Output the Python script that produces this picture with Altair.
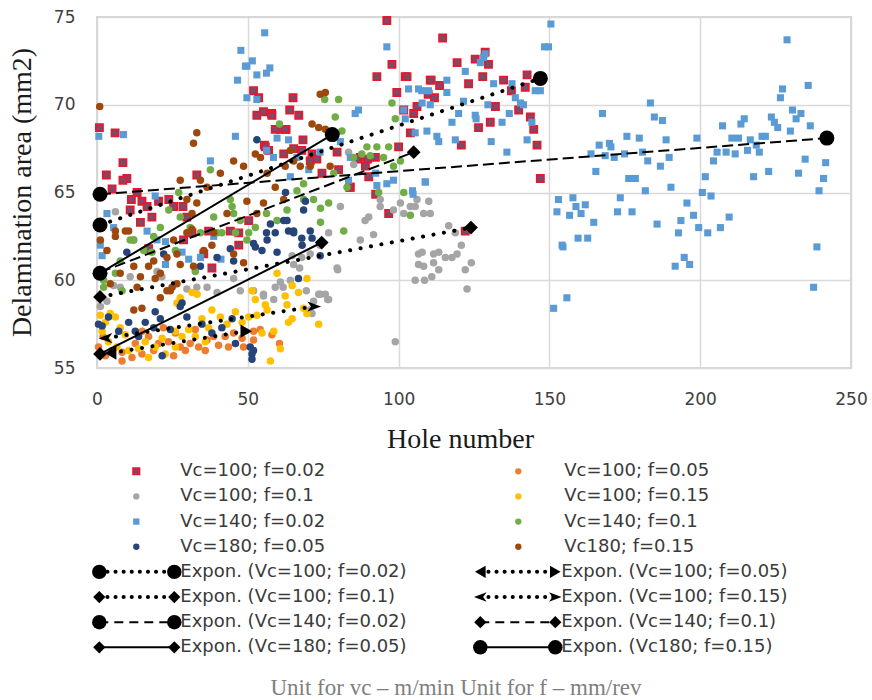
import altair as alt
import pandas as pd

# ---------------- data ----------------
series_labels = ["Vc=100; f=0.02", "Vc=100; f=0.05", "Vc=100; f=0.1", "Vc=100; f=0.15",
                 "Vc=140; f=0.02", "Vc=140; f=0.1", "Vc=180; f=0.05", "Vc180; f=0.15"]

s1_pts = [[0.8,68.7],[6,68.4],[8.6,66.7],[9.9,65.8],[8.6,65.7],[3.1,66],[5,65.2],[11.4,64.6],[13.3,65],[14.9,64.5],
          [11,64],[14.4,63.3],[16.6,64.2],[20.4,64.5],[23.8,64.6],[18.2,63.6],[25.4,64.2],[28.5,64.2],[29.8,63.6],[33.1,66],
          [31.5,62.7],[37,62.8],[17.1,61.8],[28.7,62.3],[35.4,61.5],[38.1,60.7],[44.2,62.8],[47,62.7],[47,62],[50.3,63.4],
          [51.9,70.8],[53.6,70.4],[53,69.4],[55.2,69.6],[57.9,69.5],[60.8,68.6],[62.7,68.6],[65,70.4],[63.9,69.7],[66.9,69.4],
          [55.5,67.7],[56.9,67.4],[65.2,67.5],[67.9,67.4],[71.3,67.2],[70.7,66.8],[74.6,66.1],[79.6,67.3],[80.1,66.3],[87.3,67],
          [89,66.5],[90.1,65.9],[92.4,64.9],[84,65.3],[92.8,71.6],[96.1,74.8],[97.8,72.3],[99.4,70.7],[102.2,71.6],[101.7,69.7],
          [103.9,68.4],[100,67.6],[96.7,63.8],[92.3,67],[105,69.5],[110.5,71.4],[114.6,73.8],[102.8,71.6],[110.8,71.4],[113.6,71.1],
          [109.8,70.6],[111.9,70.4],[106.1,69.9],[119.4,72.4],[125.4,72.6],[128.7,73],[129.8,72.3],[123.2,71.2],[127.9,71.6],[134.8,71.4],
          [137.4,70.8],[142,71],[142.6,71.7],[132.1,69.9],[130.4,69],[126.5,68.7],[120.8,67.7],[139.8,69.7],[143.7,69.3],[144.8,68.6],
          [145.9,67.7],[147,65.8],[122.1,62.8],[58,69.4],[59.1,68.6],[62.4,68.6],[68.3,68],[55.8,67.6],[61.9,67.2],[72.9,66.9],
          [86.4,66.9],[83.8,65.3],[89.7,66.9]]

s2_pts = [[0.5,56.2],[5,56],[8.3,55.9],[11.6,55.6],[14.9,55.8],[18.8,56],[20.4,56.4],[23.7,56.5],[27.6,56.2],[30.9,56.4],
          [33.7,56.2],[36.5,56.6],[38.7,56.8],[42.5,56.8],[45.3,57],[48.1,56.7],[48.6,56.2],[51.9,57.1],[43.6,56.2],[40.3,56.3],
          [35.9,56],[29.3,56],[25.4,55.7],[8.3,55.4],[2.8,55.7],[32.6,57.2],[26,57],[12.7,56.4],[17.1,56.8],[51.9,56.6],
          [54.1,57.2],[58,56.9],[60.5,56.4],[2,56.8],[15,57.1],[22,57.3]]

s3_pts = [[6.1,63.9],[1.1,58.5],[3.3,58.8],[5.5,59.7],[7.7,59.6],[11,60.2],[19.9,60.5],[21.5,60.2],[29.8,59.5],[33.1,59.6],
          [36.5,59.6],[39.8,59.3],[45.3,60.1],[47.5,59.4],[51.9,59.4],[55.2,59.2],[59.1,59.6],[61.7,59.6],[64.1,60],[65.2,60.9],
          [67.9,61.3],[70.7,61.5],[74,62],[76.8,62.7],[73.5,59.2],[75.7,59.2],[76.8,58.9],[71.8,58.8],[71.3,58.1],[79.6,60.7],
          [80.7,64.2],[83.4,67.3],[85.1,66.6],[87.3,62.3],[88.9,63.4],[90.1,63.6],[91.7,62.6],[93.9,64.2],[98.9,56.5],[93.9,64.6],
          [98.3,64],[100.6,64.4],[101.7,63.8],[103.9,64.2],[106.1,64.6],[108.3,63.8],[111.6,61.5],[111,60.2],[108.3,60.8],[106.6,61.5],
          [105.5,60],[110,64.5],[105.5,64.2],[110.5,63.8],[116.6,63.1],[118.8,62.7],[120.8,62],[124.1,61],[122.1,60.6],[122.7,59.5],
          [113.3,61.6],[115.5,61.3],[117.7,61.3],[119.4,61.5],[107.8,61.6],[106.6,60.9],[111.6,61],[113.3,60.6],[108.6,60],[64.7,61.4],
          [67.2,60.7],[79.8,60.6],[69.4,59.4],[74,59.2],[76.5,58.9],[70.7,58.3],[60.8,59.9],[55.2,59.1],[58.6,58.9]]

s4_pts = [[1.1,58],[2.8,57.6],[4.4,58.1],[6.1,57.9],[7.7,57.3],[9.4,56.9],[1.7,57.1],[3.8,56.5],[6.6,56.2],[10.5,56],
          [13.8,56.1],[16,56.5],[19.3,56.2],[21.6,56.7],[26,57.1],[28.2,56.8],[30.4,57.2],[31.5,59.3],[33.2,59.2],[34.8,57.8],
          [37,57.3],[38.1,58.3],[27.6,59],[26.5,58.7],[40.9,57.9],[43.1,57.5],[45.9,58.2],[48.1,57.6],[50.3,57.9],[17.1,55.6],
          [22.6,55.8],[26,56.2],[32.6,56.8],[35.9,56.5],[51.4,59.4],[52.5,58.9],[59.7,60.4],[55.8,58.6],[56.4,58.3],[62.4,59.1],
          [64.7,59.7],[66.8,59.3],[69.6,60.1],[63,58.6],[68.5,58.4],[64.7,57.8],[69.6,58.1],[73.5,57.5],[63.5,57.6],[58.6,57.1],
          [54.7,57],[60.8,56.1],[57.5,55.4],[53,58]]

s5_pts = [[0.6,68.2],[8.8,68.3],[3.3,63.8],[5.5,63],[1.1,62],[1.7,61.4],[16.6,62.8],[19.3,64.8],[19.9,62.3],[22.7,62.2],
          [28.2,61.6],[22.7,60.9],[30.4,61.2],[37.6,66.8],[34.3,61.3],[38.7,62.5],[41.1,61.2],[45.9,68.2],[46.6,71.4],[47.7,73.1],
          [49.2,72.2],[49.7,72.2],[51.5,72.5],[53,71.7],[49.7,70.4],[55.6,74.1],[56.2,71.8],[57.3,72.1],[53,70.3],[56.2,67.4],
          [59.7,68.1],[58.5,67],[63.5,68],[64.1,65.9],[66.3,67],[70.2,66.3],[74,67.3],[80.7,67.9],[84,67],[85.6,69.5],
          [86.7,69.7],[83.4,65.7],[92.4,66.1],[92.8,65.4],[96.1,73.3],[98.3,65.7],[101.7,69.7],[103.3,70.9],[107.7,70.8],[109.9,70.8],
          [109.4,68.5],[112.7,68.2],[108.8,65.6],[104.8,64.9],[96.1,65.5],[106.6,70.9],[107.8,70.1],[110.5,70],[102.2,69.2],[105.5,68.4],
          [113.3,67.9],[118.8,68],[117.7,69],[119.9,69.5],[121.5,70.2],[122.1,71.9],[116,71.4],[116,70.7],[125.4,69.4],[125.7,69.2],
          [127.1,72.4],[128.2,72.7],[128.7,72.9],[129.6,70],[130.7,67.9],[131.5,71.2],[134.3,69],[135.9,67.3],[136.7,69.5],[137.6,71.2],
          [138.7,70.4],[140.4,70.1],[141.4,70],[142.6,68],[144.2,69],[145.3,70.8],[147,70.8],[148.4,73.3],[149.7,73.3],[150.5,74.6],
          [108.9,65.6],[104.6,65.1],[153,64.6],[152.5,63.9],[154.2,62],[151.4,58.4],[156.7,63.7],[157.8,64.7],[158.8,64.2],[161.9,64.3],
          [160.5,63.8],[164.7,63.3],[154.5,61.9],[159.5,62.4],[162.7,62.4],[155.8,59],[163.8,67.2],[165.4,66.2],[166.5,67.7],[167.6,69.5],
          [168.5,67.1],[169.9,67.8],[170.4,67.6],[171.5,67],[173.5,64.7],[172.6,63.9],[174.9,67.2],[175.7,68.2],[176.3,65.8],[177.4,63.9],
          [178.5,65.8],[179.8,68.1],[180.9,67.3],[181.8,65.1],[182.6,66.8],[183.5,70.1],[184.8,69.3],[185.7,63.2],[186.8,66.5],[187.5,69.1],
          [188.7,68],[189.7,67],[190.3,65.3],[191.7,60.8],[192.8,62.7],[193.6,63.4],[194.7,61.3],[195.6,64.4],[196.5,60.9],[197.8,63.7],
          [198.9,68.1],[199.5,63],[200.7,65],[201.7,65.9],[202.5,62.7],[203.6,64.8],[204.4,66.8],[205.6,67.3],[206.7,63],[207.4,68.8],
          [208.6,67.3],[209.6,63.6],[210.5,68.1],[211.6,67.2],[212.7,68.1],[213.5,68.9],[214.6,69.2],[215.7,67.4],[216.6,68],[217.7,65.9],
          [218.6,67.7],[219.6,67.3],[220.5,68.2],[221.6,68.2],[222.7,66.2],[223.6,69.3],[224.6,69],[225.7,68.7],[226.6,70.4],[227.3,70.9],
          [228.8,73.7],[229.9,68.5],[230.6,69.7],[231.8,69.2],[232.6,66.1],[233.4,69.5],[234.8,66.9],[235.8,71.1],[236.5,68.8],[237.6,59.6],
          [238.7,61.9],[239.4,65.1],[240.9,65.8],[241.6,66.7]]

s6_pts = [[2.2,60],[6.1,60.4],[7.7,61.1],[11,62.3],[12.2,62.3],[15.5,61.7],[18.8,62.5],[21,63],[23.8,64],[27.6,63.6],
          [30.9,63],[34.3,62.7],[37.6,66.3],[38.7,63.6],[39.8,62.7],[44.2,64.6],[45.3,63.8],[47.5,63.4],[50.3,62.7],[52.5,63],
          [56.2,63.8],[59.7,63.4],[63,64],[66.3,65.1],[68.5,65.5],[71.8,64.6],[74.1,63.3],[76.8,64.4],[78.5,66.1],[80.1,70.3],
          [79,69.3],[81.2,68.5],[82.9,65.3],[85.1,67],[87.8,67.2],[89.5,67.6],[90.6,67.1],[92.8,67.6],[95,67],[96.7,67.6],
          [98.3,66.5],[100.6,66.8],[97.8,70.1],[98.9,69.2],[101.7,65],[103.9,63.7],[81.8,62.8],[74.1,64.1],[68.5,64.6],[93.4,65],
          [2.2,59.6],[8.3,59.4],[18.2,61.6],[26,61.7],[32.6,60.5],[44.8,64.2],[41.4,62.7],[45.9,62.7],[49.7,62.3],[12.1,62.3],
          [27.1,65],[75.5,70.3],[60.5,68.9]]

s7_pts = [[1.7,57.4],[3.8,57.9],[7.2,57.1],[10.5,57.6],[12.7,57.1],[13.8,56.8],[16,57.6],[18.8,57.3],[21,57.8],[24.3,57.2],
          [19.3,58.2],[27.6,58.5],[28.2,58.7],[29.8,57.9],[34.8,57.5],[38.1,57],[41.4,57.3],[44.8,57.8],[21.6,55.7],[50.8,56.2],
          [51.4,55.8],[45.9,56.4],[0.5,57.5],[52.5,61.9],[54.7,61.7],[56.4,62.3],[57.5,63.2],[59.1,62.7],[61.9,63.4],[63.5,62.8],
          [65.2,62.7],[68.5,64],[68,62],[70.7,62.8],[71.3,62.4],[69.1,64.5],[74,61.4],[51.4,55.5],[51.9,56],[66.8,60.1],
          [53,68],[62.5,65],[63,63.4],[65.2,62.8],[67.9,62.4],[56.2,62.7],[51.9,62.1],[59.7,61.6],[44.2,61.8],[45.3,61.1],
          [39.8,61.3],[34.3,60.8],[22.1,61.5],[9.9,61.6]]

s8_pts = [[0.9,69.9],[1.1,62.3],[3.3,61.7],[6.1,62.8],[9.4,62.8],[4.4,59.8],[7.7,60.4],[12.2,60.8],[14.4,60.2],[17.1,60.8],
          [21,60.4],[24.3,59.4],[26.5,59.8],[27.6,60.9],[23.2,61.3],[25.4,62.3],[29.8,62.7],[31.5,63.8],[33.1,64.4],[29.8,64.6],
          [33.1,68.4],[32,67.8],[27.6,65.7],[34.3,65.7],[36.5,65.3],[40.9,66.1],[45.3,66.8],[48.6,66.5],[49.7,64.5],[43.1,63.8],
          [38.7,62.7],[35.4,61.7],[32,60.8],[45.3,61.5],[52.5,67.2],[54.2,67],[56.4,66.1],[55.2,64.4],[59.1,65.3],[62.4,66.5],
          [64.1,67.4],[65.2,66.8],[67.4,66.5],[71.3,68.9],[73.5,68.7],[75.7,68.6],[74,70.6],[75.7,70.7],[77.3,66.5],[70.7,66.5],
          [61.9,64.6],[53,63.8],[18.8,61.1],[13.3,59.6],[21,59],[12.2,58.3],[26.5,61.5],[10.5,62.8],[14.9,58.4],[23.2,59.4],
          [24.9,59.6],[31.5,62.9],[38.1,62],[48.6,61],[6.1,62.5],[19.3,60.1]]

series_points = [s1_pts, s2_pts, s3_pts, s4_pts, s5_pts, s6_pts, s7_pts, s8_pts]

trend_labels = ["Expon. (Vc=100; f=0.02)", "Expon. (Vc=100; f=0.05)", "Expon. (Vc=100; f=0.1)",
                "Expon. (Vc=100; f=0.15)", "Expon. (Vc=140; f=0.02)", "Expon. (Vc=140; f=0.1)",
                "Expon. (Vc=180; f=0.05)", "Expon. (Vc180; f=0.15)"]
trend_x0 = [1, 4.5, 1, 2.8, 1, 1, 1, 1]
trend_y0 = [63.15, 55.85, 59.05, 56.7, 64.9, 60.45, 55.8, 60.4]
trend_x1 = [147, 49.5, 124, 72, 242, 105, 74.5, 78]
trend_y1 = [71.5, 57.1, 63.0, 58.5, 68.1, 67.3, 62.15, 68.3]

caption = "Unit for vc \u2013 m/min Unit for f \u2013 mm/rev"

# ---------------- styles ----------------
series_shape = ["square", "circle", "circle", "circle", "square", "circle", "circle", "circle"]
series_fill = ["#7b4a6c", "#ed7d31", "#a5a5a5", "#ffc000", "#5b9bd5", "#70ad47", "#264478", "#9e480e"]
series_stroke = ["#e3192d", None, None, None, None, None, None, None]
series_size = [50, 56, 56, 56, 50, 56, 56, 56]

ARROW_R = "M-1,-0.75L1,0L-1,0.75L-0.45,0Z"
ARROW_L = "M1,-0.75L-1,0L1,0.75L0.45,0Z"
trend_style = ["dot", "dot", "dot", "dot", "dash", "dash", "solid", "solid"]
trend_start = ["circle", "triangle-left", "diamond", ARROW_L, "circle", "diamond", "diamond", "circle"]
trend_end = ["circle", "triangle-right", "diamond", ARROW_R, "circle", "diamond", "diamond", "circle"]
marker_size = {"circle": 225, "diamond": 190, "triangle-left": 180, "triangle-right": 180, ARROW_L: 190, ARROW_R: 190}
leg_marker_size = {"circle": 210, "diamond": 150, "triangle-left": 150, "triangle-right": 150, ARROW_L: 160, ARROW_R: 160}

SANS = "DejaVu Sans"
SERIF = "Liberation Serif"

x_axis = alt.Axis(values=[0, 50, 100, 150, 200, 250], grid=True, gridColor="#d9d9d9", gridWidth=1.5,
                  domain=False, ticks=False, labelFont=SANS, labelFontSize=17, labelColor="#404040",
                  labelPadding=23, labelFlush=False, labelOverlap=False,
                  title="Hole number", titleFont=SERIF, titleFontSize=28, titleFontWeight="normal",
                  titleColor="#1a1a1a", titleX=363, titleY=79, titleAlign="center", titleBaseline="alphabetic")
y_axis = alt.Axis(values=[55, 60, 65, 70, 75], grid=True, gridColor="#d9d9d9", gridWidth=1.5,
                  domain=False, ticks=False, labelFont=SANS, labelFontSize=17, labelColor="#404040",
                  labelPadding=22, labelFlush=False, labelOverlap=False,
                  title="Delamination area (mm2)", titleFont=SERIF, titleFontSize=28, titleFontWeight="normal",
                  titleColor="#1a1a1a", titleAngle=270, titleX=-75, titleY=175, titleAlign="center",
                  titleBaseline="middle")


def X():
    return alt.X("x:Q", scale=alt.Scale(domain=[0, 250], nice=False, zero=False), axis=x_axis)


def Y():
    return alt.Y("y:Q", scale=alt.Scale(domain=[55, 75], nice=False, zero=False), axis=y_axis)


def dash_props(style, legend=False):
    if style == "dot":
        return dict(strokeDash=[0.1, 8 if legend else 10.5], strokeCap="round", strokeWidth=4)
    if style == "dash":
        return dict(strokeDash=[9, 6] if legend else [11, 5], strokeWidth=2)
    return dict(strokeWidth=2)


def sym_props(i):
    p = dict(shape=series_shape[i], filled=True, fill=series_fill[i], opacity=1)
    if series_stroke[i]:
        p.update(stroke=series_stroke[i], strokeWidth=1.8, strokeOpacity=1)
    return p


# ---------------- plot layers ----------------
main_layers = []
for i, pts in enumerate(series_points):
    df = pd.DataFrame(pts, columns=["x", "y"])
    main_layers.append(alt.Chart(df).mark_point(size=series_size[i], **sym_props(i)).encode(x=X(), y=Y()))

for i in range(len(trend_labels)):
    df = pd.DataFrame({"x": [trend_x0[i], trend_x1[i]], "y": [trend_y0[i], trend_y1[i]]})
    main_layers.append(alt.Chart(df).mark_line(color="black", **dash_props(trend_style[i])).encode(x=X(), y=Y()))
    d0 = pd.DataFrame({"x": [trend_x0[i]], "y": [trend_y0[i]]})
    d1 = pd.DataFrame({"x": [trend_x1[i]], "y": [trend_y1[i]]})
    main_layers.append(alt.Chart(d0).mark_point(shape=trend_start[i], filled=True, color="black", opacity=1,
                                                size=marker_size[trend_start[i]]).encode(x=X(), y=Y()))
    main_layers.append(alt.Chart(d1).mark_point(shape=trend_end[i], filled=True, color="black", opacity=1,
                                                size=marker_size[trend_end[i]]).encode(x=X(), y=Y()))

main = alt.layer(*main_layers)

# ---------------- legend layers ----------------
LX = alt.X("col:Q", scale=alt.Scale(domain=[0, 1], range=[2.3, 383.3], nice=False, zero=False), axis=None)
LY = alt.Y("row:Q", scale=alt.Scale(domain=[0, 7], range=[454.3, 630.3], nice=False, zero=False), axis=None)

leg_layers = []
for i, lab in enumerate(series_labels):
    d = pd.DataFrame({"col": [i % 2], "row": [i // 2], "label": [lab]})
    leg_layers.append(alt.Chart(d).mark_point(size=40, xOffset=37 if i % 2 == 0 else 38, **sym_props(i))
                      .encode(x=LX, y=LY))
    leg_layers.append(alt.Chart(d).mark_text(align="left", baseline="middle", font=SANS, fontSize=18,
                                             color="#3a3a3a", xOffset=81 if i % 2 == 0 else 84)
                      .encode(x=LX, y=LY, text="label:N"))

for i, lab in enumerate(trend_labels):
    d = pd.DataFrame({"col": [i % 2], "row": [4 + i // 2], "label": [lab]})
    leg_layers.append(alt.Chart(d).mark_rule(color="black", x2Offset=75, **dash_props(trend_style[i], True))
                      .encode(x=LX, x2="col:Q", y=LY))
    leg_layers.append(alt.Chart(d).mark_point(shape=trend_start[i], filled=True, color="black", opacity=1,
                                              size=leg_marker_size[trend_start[i]]).encode(x=LX, y=LY))
    leg_layers.append(alt.Chart(d).mark_point(shape=trend_end[i], filled=True, color="black", opacity=1,
                                              xOffset=75, size=leg_marker_size[trend_end[i]]).encode(x=LX, y=LY))
    leg_layers.append(alt.Chart(d).mark_text(align="left", baseline="middle", font=SANS, fontSize=18,
                                             color="#3a3a3a", xOffset=81)
                      .encode(x=LX, y=LY, text="label:N"))

leg_layers.append(alt.Chart(pd.DataFrame({"t": [caption]})).mark_text(
    align="center", baseline="middle", font=SERIF, fontSize=23, color="#7f7f7f")
    .encode(text="t:N", x=alt.value(359), y=alt.value(671)))

legend = alt.layer(*leg_layers)

chart = (
    alt.layer(main, legend)
    .resolve_scale(x="independent", y="independent")
    .properties(width=754, height=351,
                autosize=alt.AutoSizeParams(type="none"),
                padding={"left": 97, "top": 17, "right": 21, "bottom": 332},
                background="white")
    .configure_view(stroke="#d4d4d4", strokeWidth=2)
)

chart.save("out.html", embed_options={"renderer": "svg", "actions": False})
